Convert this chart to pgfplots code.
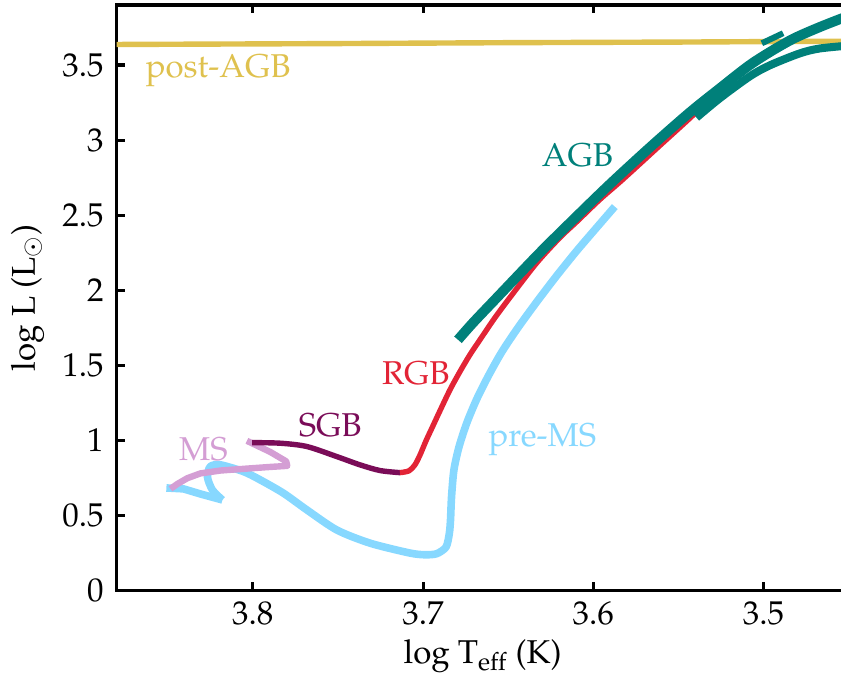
\documentclass[border=0pt]{standalone}
\usepackage[T1]{fontenc}
\usepackage{mathpazo}
\usepackage{pgfplots}
\pgfplotsset{compat=1.18}

\definecolor{postagb}{RGB}{223,193,78}
\definecolor{agb}{RGB}{0,128,122}
\definecolor{rgbbranch}{RGB}{226,36,54}
\definecolor{sgb}{RGB}{122,12,88}
\definecolor{ms}{RGB}{212,158,212}
\definecolor{prems}{RGB}{135,216,255}

\begin{document}
\begin{tikzpicture}[font=\fontsize{16.5}{20}\selectfont]
\begin{axis}[
  scale only axis,
  width=366pt, height=292.75pt,
  x dir=reverse,
  xmin=3.45, xmax=3.88,
  ymin=0, ymax=3.9,
  xtick={3.5,3.6,3.7,3.8},
  ytick={0,0.5,1,1.5,2,2.5,3,3.5},
  tick align=inside,
  major tick length=4pt,
  axis line style={line width=1.8pt},
  every tick/.style={black, line width=1.6pt},
  xticklabel style={yshift=-2pt},
  yticklabel style={xshift=-3pt},
  xlabel={log T$_\mathrm{eff}$ (K)},
  ylabel={log L (L$_\odot$)},
  x label style={at={(axis description cs:0.5,-0.113)}, anchor=center},
  y label style={at={(axis description cs:-0.1216,0.5)}, anchor=center},
  every axis plot/.append style={line join=round, no markers},
]

% pre-main sequence: Hayashi track and Henyey track
\addplot[prems, line width=3.8pt, smooth, tension=0.45] coordinates {
 (3.5874,2.557) (3.5986,2.410) (3.6097,2.263) (3.6215,2.097)
 (3.6332,1.923) (3.6443,1.750) (3.6537,1.590) (3.6613,1.437)
 (3.6684,1.277) (3.6743,1.117) (3.6789,0.957) (3.6819,0.803)
 (3.6833,0.623) (3.6839,0.470) (3.6846,0.380) (3.6865,0.290)
 (3.6920,0.245) (3.6990,0.238) (3.7080,0.250)
 (3.7311,0.315) (3.7507,0.403) (3.7683,0.537) (3.7820,0.648)
 (3.7957,0.737) (3.8055,0.792) (3.8191,0.837) (3.8250,0.826)
 (3.8267,0.757) (3.8238,0.670) (3.8179,0.603)
};
% final approach to the ZAMS
\addplot[prems, line width=3.8pt] coordinates {
 (3.8179,0.603) (3.8308,0.643) (3.8408,0.677) (3.8508,0.683)
};

% main sequence
\addplot[ms, line width=3.2pt] coordinates {
 (3.8484,0.677) (3.8443,0.710) (3.8385,0.748) (3.8308,0.780)
 (3.8191,0.799) (3.7998,0.815) (3.7898,0.823) (3.7798,0.830)
 (3.7804,0.860) (3.7898,0.923) (3.8035,0.997)
};

% subgiant branch
\addplot[sgb, line width=2.7pt, smooth, tension=0.5] coordinates {
 (3.8005,0.985) (3.7839,0.981) (3.7683,0.959) (3.7507,0.892)
 (3.7371,0.837) (3.7253,0.799) (3.7136,0.785)
};

% red giant branch
\addplot[rgbbranch, line width=2.7pt, smooth, tension=0.5] coordinates {
 (3.7136,0.785) (3.7083,0.797) (3.7048,0.837) (3.7018,0.903)
 (3.6983,0.997) (3.6942,1.097) (3.6901,1.197) (3.6842,1.337)
 (3.6784,1.457) (3.6725,1.570) (3.6666,1.670) (3.6578,1.817)
 (3.6473,1.977) (3.6332,2.183) (3.6197,2.350) (3.6097,2.457)
 (3.5963,2.603) (3.5828,2.737) (3.5610,2.963) (3.5417,3.163)
 (3.5282,3.317)
};

% post-AGB
\addplot[postagb, line width=2.7pt] coordinates {
 (3.88,3.637) (3.75,3.643) (3.65,3.649) (3.55,3.653) (3.50,3.656) (3.45,3.659)
};

% asymptotic giant branch with thermal pulses
\addplot[agb, line width=5pt, smooth, tension=0.5] coordinates {
 (3.6795,1.670) (3.6707,1.783) (3.6567,1.950) (3.6314,2.250)
 (3.6109,2.480) (3.5904,2.705) (3.5669,2.950) (3.5435,3.183)
 (3.5259,3.343) (3.5065,3.513) (3.4848,3.662) (3.4672,3.752)
 (3.4496,3.830)
};
\addplot[agb, line width=4pt, smooth, tension=0.5] coordinates {
 (3.5394,3.150) (3.5259,3.277) (3.5083,3.423) (3.4965,3.497)
 (3.4789,3.577) (3.4672,3.610) (3.4496,3.630)
};
\addplot[agb, line width=3pt] coordinates {
 (3.5010,3.645) (3.4885,3.712)
};

\node[anchor=base west, inner sep=0pt, text=postagb] at (axis cs:3.8631,3.417) {post-AGB};
\node[anchor=base west, inner sep=0pt, text=agb] at (axis cs:3.6304,2.825) {AGB};
\node[anchor=base west, inner sep=0pt, text=rgbbranch] at (axis cs:3.7243,1.370) {RGB};
\node[anchor=base west, inner sep=0pt, text=sgb] at (axis cs:3.7732,1.023) {SGB};
\node[anchor=base west, inner sep=0pt, text=ms] at (axis cs:3.8436,0.863) {MS};
\node[anchor=base west, inner sep=0pt, text=prems] at (axis cs:3.6618,0.957) {pre-MS};
\end{axis}
\pgfresetboundingbox
\path[use as bounding box]
  ([shift={(-58.35pt,-44.25pt)}]current axis.south west)
  rectangle ([shift={(362.15pt,295.25pt)}]current axis.south west);
\end{tikzpicture}
\end{document}
